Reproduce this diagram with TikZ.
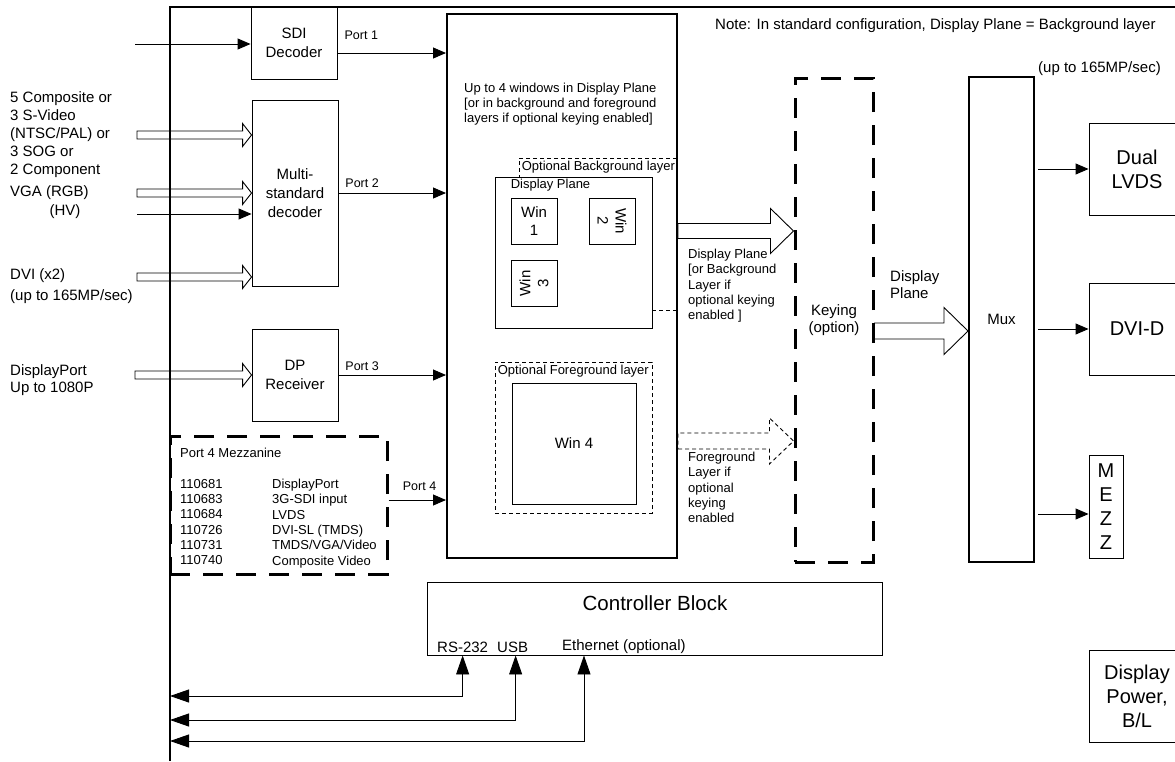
\documentclass[tikz,border=0pt]{standalone}
\usepackage{fontspec}
\setmainfont{Liberation Sans}
\usetikzlibrary{arrows.meta,positioning,calc}
\newcommand{\szport}{\fontsize{12.5}{15}\selectfont}
\newcommand{\szsmall}{\fontsize{13}{15.3}\selectfont}
\newcommand{\szin}{\fontsize{15}{18}\selectfont}
\newcommand{\szbox}{\fontsize{15}{19}\selectfont}
\newcommand{\szmid}{\fontsize{15}{17.3}\selectfont}
\newcommand{\szbig}{\fontsize{20}{24}\selectfont}
\newcommand{\szctrl}{\fontsize{20.5}{24}\selectfont}
% hollow arrow: [style]{tail}{tip}{shaft half}{head half}{head length}
\newcommand{\hollowarrow}[6][]{%
  \draw[wire,#1] ($(#2)+(0,#4)$) -- ($(#3)+(-#6,#4)$) -- ($(#3)+(-#6,#5)$) -- (#3)
    -- ($(#3)+(-#6,-#5)$) -- ($(#3)+(-#6,-#4)$) -- ($(#2)+(0,-#4)$) -- cycle;}
\tikzset{
block/.style = {draw, fill=white, rectangle, inner sep=0pt, line width=0.9pt, align=center, font=\szbox},
mainbox/.style = {draw, rectangle, line width=2pt, inner sep=0pt},
muxbox/.style = {draw, rectangle, line width=2pt, inner sep=0pt, font=\szmid},
winbox/.style = {draw, fill=white, rectangle, inner sep=0pt, line width=0.9pt, align=center, font=\szin},
bigbox/.style = {draw, rectangle, inner sep=0pt, line width=0.9pt, align=center, font=\szbig},
finedash/.style = {draw, dash pattern=on 4pt off 3pt, line width=0.8pt, inner sep=0pt},
thickdash/.style = {draw, dash pattern=on 20pt off 13pt, line width=3pt, inner sep=0pt},
lbl/.style = {inner sep=0pt},
smalltext/.style = {inner sep=0pt, font=\szsmall, align=left},
portlbl/.style = {inner sep=0pt, font=\szport, anchor=base},
wire/.style = {line width=0.9pt},
frame/.style = {line width=1.2pt},
ctrlarrow/.style = {wire, {Triangle[length=19pt,width=13pt]}-{Triangle[length=19pt,width=13pt]}}
}
\begin{document}
\begin{tikzpicture}[x=1pt, y=-1pt, >={Triangle[length=13pt,width=11pt]}]
  \useasboundingbox (0,0) rectangle (1175,761);
  \clip (0,0) rectangle (1175,761);

  % board outline
  \coordinate (frametl) at (170,7);
  \draw[frame] (frametl |- 0,761) -- (frametl) -- (1175,7);

  % input decoders
  \node [block, minimum width=86pt, minimum height=72pt]   (sdi)  at (294,43)  {SDI\\Decoder};
  \node [block, minimum width=86pt, minimum height=186pt]  (msd)  at (295,193) {Multi-\\standard\\decoder};
  \node [block, minimum width=86pt, minimum height=92pt]   (dpr)  at (295,375) {DP\\Receiver};

  % input labels
  \node [lbl, font=\szin, anchor=west, align=left] (complbl) at (10,135) {5 Composite or\\3 S-Video\\(NTSC/PAL) or\\3 SOG or\\2 Component};
  \node [lbl, font=\szin, anchor=west]             (vgalbl)  at (10,193) {VGA (RGB)};
  \node [lbl, font=\szin]                          (hvlbl)   at (65,212) {(HV)};
  \node [lbl, font=\fontsize{15}{21.5}\selectfont, anchor=west, align=left] (dvilbl) at (10,286) {DVI (x2)\\(up to 165MP/sec)};
  \node [lbl, font=\fontsize{15}{17.5}\selectfont, anchor=west, align=left] (dplbl)  at (10,380) {DisplayPort\\Up to 1080P};

  % mezzanine
  \node [thickdash, minimum width=217pt, minimum height=138pt] (mezz) at (278.5,505) {};
  \node [smalltext, anchor=west]       (mezztitle) at (180,453) {Port 4 Mezzanine};
  \node [smalltext, anchor=north west] (mezzids)   at (180,479) {110681\\110683\\110684\\110726\\110731\\110740};
  \node [smalltext, anchor=north west] (mezzdesc)  at (272,479) {DisplayPort\\3G-SDI input\\LVDS\\DVI-SL (TMDS)\\TMDS/VGA/Video\\Composite Video};

  % main processing block
  \node [mainbox, minimum width=230pt, minimum height=544pt] (main) at (562,286) {};
  \node [smalltext, anchor=west] (maintext) at (464,104) {Up to 4 windows in Display Plane\\{[}or in background and foreground\\layers if optional keying enabled]};
  \node [finedash, minimum width=157pt, minimum height=152pt] (bglayer) at (597.5,234) {};
  \node [smalltext, anchor=north west, inner sep=3pt] (bgtitle) at (bglayer.north west) {Optional Background layer};
  \node [block, minimum width=157pt, minimum height=151pt] (dplane) at (573.5,252.5) {};
  \node [smalltext, anchor=north west, inner sep=2pt] (dplanetitle) at ($(dplane.north west)+(14,0)$) {Display Plane};
  \node [winbox, minimum size=46pt]             (win1) at (534,221)   {Win\\1};
  \node [winbox, minimum size=46pt, rotate=-90] (win2) at (612,221)   {Win\\2};
  \node [winbox, minimum size=46pt, rotate=90]  (win3) at (534,283.5) {Win\\3};
  \node [finedash, minimum width=157pt, minimum height=151pt] (fglayer) at (573.5,437.5) {};
  \node [smalltext, anchor=north west, inner sep=3pt] (fgtitle) at (fglayer.north west) {Optional Foreground layer};
  \node [winbox, minimum width=124pt, minimum height=121pt] (win4) at (574,443.5) {Win 4};

  % keying, mux and outputs
  \node [thickdash, minimum width=78pt, minimum height=484pt, font=\szmid, align=center] (keying) at (834,320) {Keying\\(option)};
  \node [muxbox, minimum width=65pt, minimum height=485pt] (mux) at (1001.5,319.5) {Mux};
  \node [bigbox, minimum width=96pt, minimum height=92pt]  (lvds)    at (1137,169)   {Dual\\LVDS};
  \node [bigbox, minimum width=96pt, minimum height=92pt]  (dvid)    at (1137,329)   {DVI-D};
  \node [bigbox, minimum width=34pt, minimum height=103pt] (mezzout) at (1106,506.5) {M\\E\\Z\\Z};
  \node [bigbox, minimum width=96pt, minimum height=92pt]  (power)   at (1137,696)   {Display\\Power,\\B/L};
  \node [lbl, font=\szmid, anchor=west]       (note)    at (715,26) {Note: In standard configuration, Display Plane = Background layer};
  \node [lbl, font=\szmid, anchor=south west] (muxrate) at ($(mux.north east)+(3,0)$) {(up to 165MP/sec)};
  \node [smalltext, anchor=north west] (dplanelbl) at (688,249) {Display Plane\\{[}or Background\\Layer if\\optional keying\\enabled ]};
  \node [smalltext, anchor=north west] (fglbl)     at (688,452) {Foreground\\Layer if\\optional\\keying\\enabled};
  \node [lbl, font=\szmid, anchor=north west, align=left] (keyoutlbl) at (890,270) {Display\\Plane};

  % controller
  \node [block, minimum width=455pt, minimum height=73pt] (ctrl) at (654.5,618.5) {};
  \node [lbl, font=\szctrl]           (ctrltitle) at (655,603) {Controller Block};
  \node [lbl, font=\szmid, anchor=west] (rs)  at (437,647) {RS-232};
  \node [lbl, font=\szmid, anchor=west] (usb) at (497,647) {USB};
  \node [lbl, font=\szmid, anchor=west] (eth) at (562,647) {Ethernet (optional)};

  % connection points
  \coordinate (sdiin)   at (135,44);
  \coordinate (hvin)    at (137,214);
  \coordinate (compin)  at (137,135);
  \coordinate (vgain)   at (137,193);
  \coordinate (dviin)   at (137,277);
  \coordinate (dpin)    at (135,375);
  \coordinate (comptip) at (compin -| msd.west);
  \coordinate (vgatip)  at (vgain -| msd.west);
  \coordinate (dvitip)  at (dviin -| msd.west);
  \coordinate (dptip)   at (dpin -| dpr.west);
  \coordinate (p1)      at ($(sdi.east)+(0,10)$);
  \coordinate (p4)      at ($(mezz.east)+(0,-5)$);
  \coordinate (dpout)   at (main.east |- 0,231);
  \coordinate (dptipk)  at (keying.west |- 0,231);
  \coordinate (fgout)   at (main.east |- 0,441);
  \coordinate (fgtipk)  at (keying.west |- 0,441);
  \coordinate (kout)    at (keying.east |- 0,331);
  \coordinate (ktip)    at (mux.west |- 0,331);
  \coordinate (mzout)   at ($(mux.east |- mezzout.west)+(3,7.5)$);
  \coordinate (rsport)  at (rs |- ctrl.south);
  \coordinate (usbport) at ($(usb |- ctrl.south)+(3,0)$);
  \coordinate (ethport) at ($(eth.west |- ctrl.south)+(22,0)$);
  \coordinate (rsback)  at (frametl |- 0,696);
  \coordinate (usbback) at (frametl |- 0,720);
  \coordinate (ethback) at (frametl |- 0,741);

  % inputs
  \draw [wire, ->] (sdiin) -- (sdiin -| sdi.west);
  \draw [wire, ->] (hvin) -- (hvin -| msd.west);
  \hollowarrow{compin}{comptip}{4}{11.5}{9}
  \hollowarrow{vgain}{vgatip}{4}{11.5}{9}
  \hollowarrow{dviin}{dvitip}{4}{11.5}{9}
  \hollowarrow{dpin}{dptip}{4}{11.5}{9}

  % ports into main block
  \draw [wire, ->] (p1) -- node[portlbl, pos=0.22, yshift=14pt] {Port 1} (p1 -| main.west);
  \draw [wire, ->] (msd.east) -- node[portlbl, pos=0.22, yshift=6pt] {Port 2} (msd.east -| main.west);
  \draw [wire, ->] (dpr.east) -- node[portlbl, pos=0.22, yshift=4.5pt] {Port 3} (dpr.east -| main.west);
  \draw [wire, ->] (p4) -- node[portlbl, pos=0.54, yshift=10pt] {Port 4} (p4 -| main.west);

  % layers to keying, keying to mux
  \hollowarrow{dpout}{dptipk}{7.5}{22.5}{23}
  \hollowarrow[dash pattern=on 4pt off 3pt]{fgout}{fgtipk}{8}{23}{24}
  \hollowarrow{kout}{ktip}{8}{23.5}{24}

  % mux outputs
  \draw [wire, ->] ($(mux.east |- lvds.west)+(3,0)$) -- (lvds.west);
  \draw [wire, ->] ($(mux.east |- dvid.west)+(3,0)$) -- (dvid.west);
  \draw [wire, ->] (mzout) -- (mzout -| mezzout.west);

  % controller links
  \draw [ctrlarrow] (rsback) -| (rsport);
  \draw [ctrlarrow] (usbback) -| (usbport);
  \draw [ctrlarrow] (ethback) -| (ethport);
\end{tikzpicture}
\end{document}
